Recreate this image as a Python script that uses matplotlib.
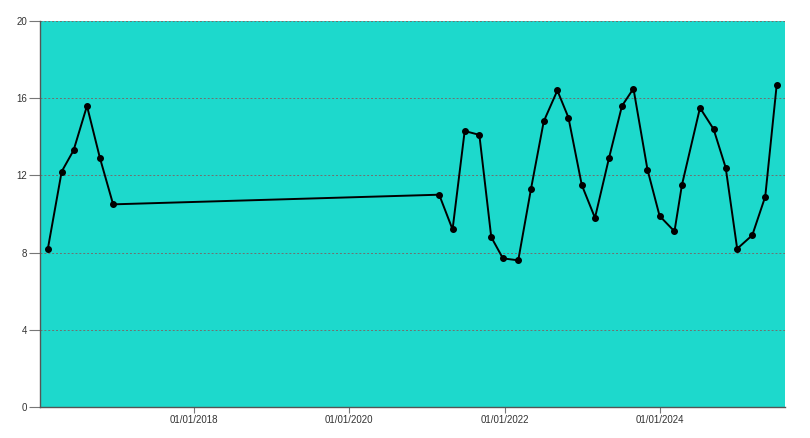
import matplotlib
matplotlib.use("Agg")
import matplotlib.pyplot as plt
import matplotlib.dates as mdates
import pandas as pd

# data
DATES = [
    "2016-02-13", "2016-04-18", "2016-06-13", "2016-08-15", "2016-10-15", "2016-12-16",
    "2021-02-27", "2021-05-01", "2021-06-27", "2021-09-04", "2021-10-30", "2021-12-24",
    "2022-03-06", "2022-05-05", "2022-07-04", "2022-09-06", "2022-10-28", "2022-12-30",
    "2023-03-02", "2023-05-07", "2023-07-07", "2023-08-30", "2023-11-04", "2023-12-31",
    "2024-03-10", "2024-04-14", "2024-07-08", "2024-09-10", "2024-11-06", "2024-12-30",
    "2025-03-11", "2025-05-11", "2025-07-04",
]
VALUES = [
    8.2, 12.2, 13.3, 15.6, 12.9, 10.5,
    11.0, 9.2, 14.3, 14.1, 8.8, 7.7,
    7.6, 11.3, 14.8, 16.4, 15.0, 11.5,
    9.8, 12.9, 15.6, 16.5, 12.3, 9.9,
    9.1, 11.5, 15.5, 14.4, 12.4, 8.2,
    8.9, 10.9, 16.7,
]
Y_TICKS = [0, 4, 8, 12, 16, 20]
X_TICKS = ["2018-01-01", "2020-01-01", "2022-01-01", "2024-01-01"]

BG = "#1DD9CC"
TEXT = "#333333"

plt.rcParams["font.family"] = ["Liberation Sans", "DejaVu Sans"]

fig = plt.figure(figsize=(8.1, 4.38), dpi=100)
ax = fig.add_axes([40 / 810, 31 / 438, 745 / 810, 386 / 438])
ax.set_facecolor(BG)

x = pd.to_datetime(DATES)
ax.plot(x, VALUES, color="black", linewidth=1.4, marker="o", markersize=4.0, zorder=3)

ax.set_xlim(pd.Timestamp("2016-01-07"), pd.Timestamp("2025-08-12"))
ax.set_ylim(0, 20)
ax.set_yticks(Y_TICKS)
ax.set_xticks(pd.to_datetime(X_TICKS))
ax.xaxis.set_major_formatter(mdates.DateFormatter("%d/%m/%Y"))

ax.grid(axis="y", color="#707070", linestyle=(0, (2, 2)), linewidth=0.7, zorder=1)
ax.set_axisbelow(True)

for s in ["top", "right"]:
    ax.spines[s].set_visible(False)
for s in ["left", "bottom"]:
    ax.spines[s].set_color("#555555")
    ax.spines[s].set_linewidth(1.0)

ax.tick_params(axis="y", length=8, width=0.8, color="#777777", labelsize=7, labelcolor=TEXT, pad=1)
ax.tick_params(axis="x", length=4, width=0.8, color="#777777", labelsize=7, labelcolor=TEXT, pad=2)

fig.savefig("out.png", dpi=100, facecolor="white")
plt.close(fig)
